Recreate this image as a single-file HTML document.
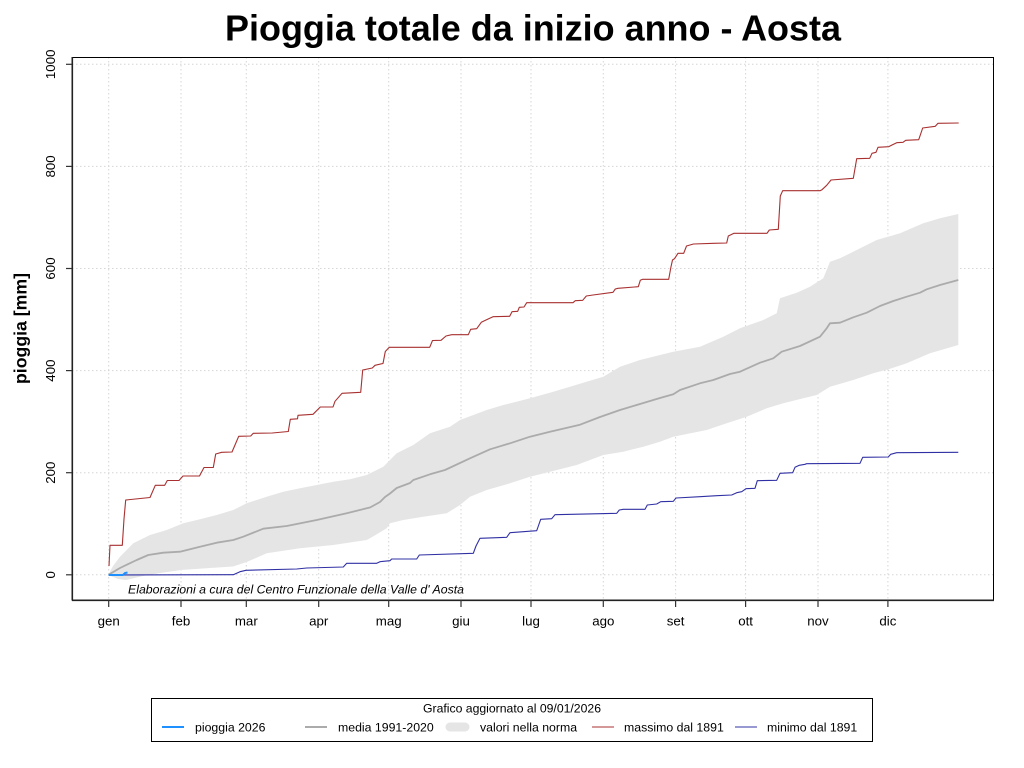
<!DOCTYPE html>
<html>
<head>
<meta charset="utf-8">
<style>
html,body{margin:0;padding:0;background:#fff;}
svg{display:block;}
text{font-family:"Liberation Sans",Arial,sans-serif;}
</style>
</head>
<body>
<svg width="1024" height="768" viewBox="0 0 1024 768" xmlns="http://www.w3.org/2000/svg">
<rect x="0" y="0" width="1024" height="768" fill="#fff"/>

<!-- title -->
<text x="533" y="40.5" font-size="36" font-weight="bold" text-anchor="middle" textLength="616" lengthAdjust="spacingAndGlyphs">Pioggia totale da inizio anno - Aosta</text>

<!-- grid -->
<g stroke="#d6d6d6" stroke-width="1" stroke-dasharray="1.5,2.5" fill="none">
<line x1="72" y1="574.8" x2="994" y2="574.8"/>
<line x1="72" y1="472.7" x2="994" y2="472.7"/>
<line x1="72" y1="370.6" x2="994" y2="370.6"/>
<line x1="72" y1="268.5" x2="994" y2="268.5"/>
<line x1="72" y1="166.4" x2="994" y2="166.4"/>
<line x1="72" y1="64.3" x2="994" y2="64.3"/>
<line x1="108.7" y1="57" x2="108.7" y2="600"/>
<line x1="181" y1="57" x2="181" y2="600"/>
<line x1="246.3" y1="57" x2="246.3" y2="600"/>
<line x1="318.7" y1="57" x2="318.7" y2="600"/>
<line x1="388.7" y1="57" x2="388.7" y2="600"/>
<line x1="461" y1="57" x2="461" y2="600"/>
<line x1="531" y1="57" x2="531" y2="600"/>
<line x1="603.3" y1="57" x2="603.3" y2="600"/>
<line x1="675.6" y1="57" x2="675.6" y2="600"/>
<line x1="745.6" y1="57" x2="745.6" y2="600"/>
<line x1="818" y1="57" x2="818" y2="600"/>
<line x1="887.9" y1="57" x2="887.9" y2="600"/>
</g>

<!-- norm band -->
<polygon fill="#e5e5e5" stroke="none" points="
108.7,574 113,566 120,556.7 133.3,543.3 150,535 166.7,530 183.3,523.3 200,519.3 216.7,515 233.3,510 246.7,503.3 266.7,496.7 283.3,491.7 300,488.3 316.7,485 333.3,481.7 350,479.3 366.7,475 383.3,466.7 390,460 396.7,453.3 413.3,445 430,433.3 450,426.7 460,420 486.7,410 503.3,405 530,398.3 553.3,391.7 570,386.7 603.3,376.7 620,366.7 640,360 660,355 673.3,351.7 700,346.7 723.3,336.7 740,328.3 763.3,320 776.7,313.3 780,298.3 796.7,292.7 810,286.7 823.3,278.3 830,261.7 840,258.3 856.7,250 876.7,240 900,233.3 923.3,223.3 940,218.3 958.3,214
958.3,345 930,353.3 906.7,363.3 888.3,369.3 873.3,373.3 853.3,380 830,386.7 816.7,395 803.3,398.3 783.3,403.3 766.7,408.3 746.7,416.7 726.7,423.3 706.7,430 673.3,436.7 660,441.7 643.3,446.7 623.3,451.7 603.3,455 576.7,465 550,471.7 530,476.7 510,483.3 486.7,490 470,496.7 460,505 446.7,513.3 423.3,516.7 403.3,520 390,523.3 386.7,528.3 370,538.3 366.7,540 333.3,545 300,548.3 266.7,553.3 246.7,562 233,566.5 210,568 181,570 160,573 143,576 126,580 118,579 108.7,575"/>

<!-- mean -->
<polyline fill="none" stroke="#ababab" stroke-width="1.8" stroke-linejoin="round" points="
108.7,574.7 120,568 136.7,560 148.3,555 163.3,552.7 180,551.7 200,546.7 216.7,542.7 233.3,540 243.3,536.7 263.3,528.7 286.7,526 316.7,520 346.7,513.3 366.7,508.3 370,507.5 380,502 385,497 390,493.5 396.7,488 410,483 413.3,480 430,474.3 445,470 470,458.3 490,449.3 510,443.3 530,436.7 550,431.7 580,424.7 600,417 620,410 640,404 660,398 673.3,394.3 680,390 700,383.3 713.3,380 730,374 740,371.7 760,362.7 773.3,358.3 781.7,351.7 800,346 820,336.7 826.7,328.3 830,323.3 840,322.7 853.3,317.3 866.7,312.7 880,306 893.3,301 906.7,296.7 920,292.7 926.7,289.3 940,285 958.3,280"/>

<!-- max -->
<polyline fill="none" stroke="#a83030" stroke-width="1.1" stroke-linejoin="round" points="
109,566 110,545.3 122.3,545.3 124,519 125.7,500 150,497.5 155.3,485.3 164.7,485.3 167.3,480.5 179,480.5 183,476 199.5,476 204,467.5 213.3,467.5 215.7,454 221.7,452.3 232,452 235,445 238.7,436.3 250.7,436 253.3,433.3 272.3,433 288.3,431.5 290.3,419.3 297.5,418.8 298,415.3 313,414.3 320.3,407 333,407 335,401.3 342,393.3 360.7,392.3 362.7,370 372.3,368 375,365.3 383,363.5 385.3,351.5 389.3,347.3 429.7,347.3 432.5,340.5 441,340.3 446,336 451.7,334.7 468.3,334.7 470.7,329.3 476.7,328.7 481.3,322.3 486,320 493,316.7 509.7,316.3 512,311.7 517.7,311.3 519.3,307.3 524,307 526.7,302.7 573,302.7 575.3,300.7 582.7,300.3 586.3,296 593,295 613,292.3 615.3,289 618,288.3 638.3,286.7 640.3,280.3 642.7,279.3 668.7,279.3 671,266.7 672.5,260 674.5,258.7 678,253.3 683.7,253.3 686.5,246 693.5,244 713.7,243.3 726.7,243 728.3,236 734,233.3 767,233.3 769.3,230 778.3,229.3 780.3,196 782.7,190.7 820,190.7 822,189.7 826.7,185.3 831,180 853.3,178.3 856.7,158.7 869.7,158.3 872,153.3 876,152.3 878,147.3 888.7,146.7 892,145 896.7,142.7 903,142.3 905.7,140.3 918.7,139.7 922.7,128 935.3,126.3 938,123.3 958.7,123"/>

<!-- min -->
<polyline fill="none" stroke="#3030a4" stroke-width="1.1" stroke-linejoin="round" points="
108.7,575 233.3,574.7 240,571.7 246,570.3 296.7,569 306.7,568 343.3,567 346.7,563.3 376.7,563.3 380,561.7 390,560.7 391.7,559 416.7,559 419.3,555 473.3,553.3 476,546 480,538.3 506.7,537.3 510,532.7 536.7,530.7 538,527 540.7,519.3 551.7,518.7 555,514.7 616.7,513.3 619.3,510 623.3,509.3 645,509.3 647.3,505 656.7,504 660.7,501.7 673.3,501.3 676,498 700,496.7 716.7,495.7 731.7,495 736.7,492.7 741.7,491.7 746,488.7 755,488.3 757.3,480.7 776.7,480.3 780,473.3 792.7,472.7 795,467.3 799.3,465.3 805,464.3 806.7,463.7 860,463.3 862.7,457.3 888.3,457 890.7,454.3 896.7,452.7 958.3,452.3"/>

<!-- pioggia 2026 -->
<polyline fill="none" stroke="#1e90ff" stroke-width="2" points="108.7,575 123,575 125,573 127.5,572.5"/>

<!-- credit -->
<text x="128" y="593.5" font-size="12.3" font-style="italic" textLength="336" lengthAdjust="spacingAndGlyphs">Elaborazioni a cura del Centro Funzionale della Valle d' Aosta</text>

<!-- frame -->
<rect x="72.5" y="57.5" width="921" height="542.5" fill="none" stroke="#000" stroke-width="1"/>
<line x1="72.3" y1="57" x2="72.3" y2="600.5" stroke="#222" stroke-width="1.6"/>
<line x1="72" y1="600.3" x2="994" y2="600.3" stroke="#222" stroke-width="1.6"/>

<!-- y ticks -->
<g stroke="#333" stroke-width="1.2">
<line x1="66" y1="574.8" x2="72" y2="574.8"/>
<line x1="66" y1="472.7" x2="72" y2="472.7"/>
<line x1="66" y1="370.6" x2="72" y2="370.6"/>
<line x1="66" y1="268.5" x2="72" y2="268.5"/>
<line x1="66" y1="166.4" x2="72" y2="166.4"/>
<line x1="66" y1="64.3" x2="72" y2="64.3"/>
</g>
<g font-size="13.3" text-anchor="middle">
<text transform="translate(55,574.8) rotate(-90)">0</text>
<text transform="translate(55,472.7) rotate(-90)">200</text>
<text transform="translate(55,370.6) rotate(-90)">400</text>
<text transform="translate(55,268.5) rotate(-90)">600</text>
<text transform="translate(55,166.4) rotate(-90)">800</text>
<text transform="translate(55,64.3) rotate(-90)">1000</text>
</g>

<!-- x ticks -->
<g stroke="#333" stroke-width="1.2">
<line x1="108.7" y1="600" x2="108.7" y2="607"/>
<line x1="181" y1="600" x2="181" y2="607"/>
<line x1="246.3" y1="600" x2="246.3" y2="607"/>
<line x1="318.7" y1="600" x2="318.7" y2="607"/>
<line x1="388.7" y1="600" x2="388.7" y2="607"/>
<line x1="461" y1="600" x2="461" y2="607"/>
<line x1="531" y1="600" x2="531" y2="607"/>
<line x1="603.3" y1="600" x2="603.3" y2="607"/>
<line x1="675.6" y1="600" x2="675.6" y2="607"/>
<line x1="745.6" y1="600" x2="745.6" y2="607"/>
<line x1="818" y1="600" x2="818" y2="607"/>
<line x1="887.9" y1="600" x2="887.9" y2="607"/>
</g>
<g font-size="13.3" text-anchor="middle">
<text x="108.7" y="625.7">gen</text>
<text x="181" y="625.7">feb</text>
<text x="246.3" y="625.7">mar</text>
<text x="318.7" y="625.7">apr</text>
<text x="388.7" y="625.7">mag</text>
<text x="461" y="625.7">giu</text>
<text x="531" y="625.7">lug</text>
<text x="603.3" y="625.7">ago</text>
<text x="675.6" y="625.7">set</text>
<text x="745.6" y="625.7">ott</text>
<text x="818" y="625.7">nov</text>
<text x="887.9" y="625.7">dic</text>
</g>

<!-- y label -->
<text transform="translate(26.5,328.5) rotate(-90)" font-size="17.6" font-weight="bold" text-anchor="middle" textLength="111" lengthAdjust="spacingAndGlyphs">pioggia [mm]</text>

<!-- legend -->
<rect x="151.5" y="698.5" width="721" height="43" fill="#fff" stroke="#000" stroke-width="1"/>
<text x="512" y="712.5" font-size="12.2" text-anchor="middle" textLength="178" lengthAdjust="spacingAndGlyphs">Grafico aggiornato al 09/01/2026</text>
<line x1="162" y1="727" x2="184" y2="727" stroke="#1e90ff" stroke-width="2"/>
<text x="195" y="731.5" font-size="12.3">pioggia 2026</text>
<line x1="305" y1="727" x2="327" y2="727" stroke="#ababab" stroke-width="2"/>
<text x="338" y="731.5" font-size="12.3">media 1991-2020</text>
<line x1="450" y1="727" x2="465" y2="727" stroke="#e5e5e5" stroke-width="9" stroke-linecap="round"/>
<text x="480" y="731.5" font-size="12.3">valori nella norma</text>
<line x1="592" y1="727" x2="614" y2="727" stroke="#a83030" stroke-width="1.1"/>
<text x="624" y="731.5" font-size="12.3">massimo dal 1891</text>
<line x1="735" y1="727" x2="757" y2="727" stroke="#3030a4" stroke-width="1.1"/>
<text x="767" y="731.5" font-size="12.3">minimo dal 1891</text>
</svg>
</body>
</html>
